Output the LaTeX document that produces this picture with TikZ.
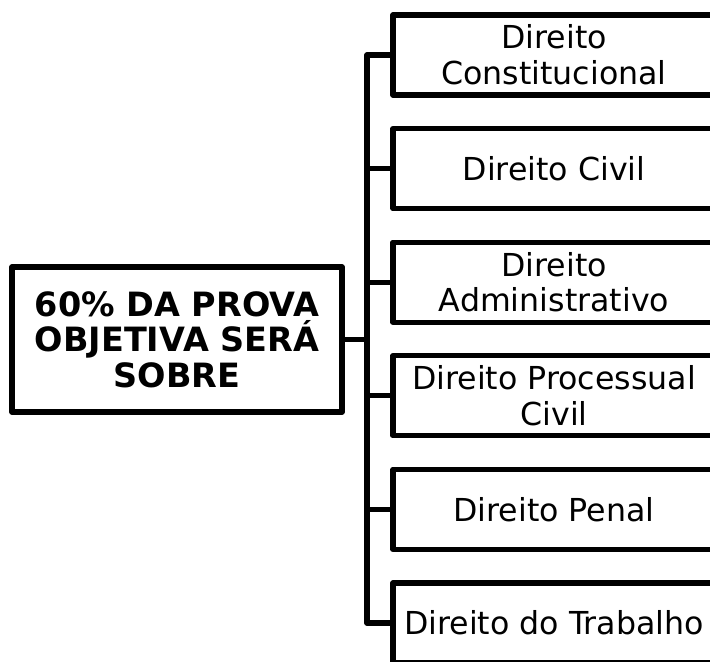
\documentclass[tikz,border=0pt]{standalone}
\usepackage{fontspec}
\setmainfont{DejaVu Sans}
\usepackage{tikz}
\usetikzlibrary{positioning, calc}

\begin{document}
\begin{tikzpicture}[font = \fontsize{22.5}{25.5}\selectfont,
    line width = 3.8pt, line join = round,
    mainbox/.style = {draw, align=center, inner sep=0pt, minimum width=8.25cm, minimum height=3.625cm, font=\fontsize{23.8}{25.3}\selectfont\bfseries},
    subject/.style = {draw, align=center, inner sep=0pt, minimum width=8.05cm, minimum height=2cm}]
    \useasboundingbox (0,0) rectangle (17.75,-16.55);

    \node[mainbox] (prova) at (4.425,-8.49) {60\% DA PROVA\\OBJETIVA SERÁ\\SOBRE};

    \node[subject] (dconst) at (13.85,-1.375) {Direito\\Constitucional};
    \node[subject] (dcivil) at (13.85,-4.215) {Direito Civil};
    \node[subject] (dadm) at (13.85,-7.055) {Direito\\Administrativo};
    \node[subject] (dproc) at (13.85,-9.895) {Direito Processual\\Civil};
    \node[subject] (dpenal) at (13.85,-12.735) {Direito Penal};
    \node[subject] (dtrab) at (13.85,-15.575) {Direito do Trabalho};

    \coordinate (trunk) at (9.175,0);

    \draw (prova.east) -- (prova.east -| trunk);
    \draw (dconst.west) -| (trunk |- dtrab.west) -- (dtrab.west);
    \draw (dcivil.west) -- (dcivil.west -| trunk);
    \draw (dadm.west) -- (dadm.west -| trunk);
    \draw (dproc.west) -- (dproc.west -| trunk);
    \draw (dpenal.west) -- (dpenal.west -| trunk);
\end{tikzpicture}
\end{document}
